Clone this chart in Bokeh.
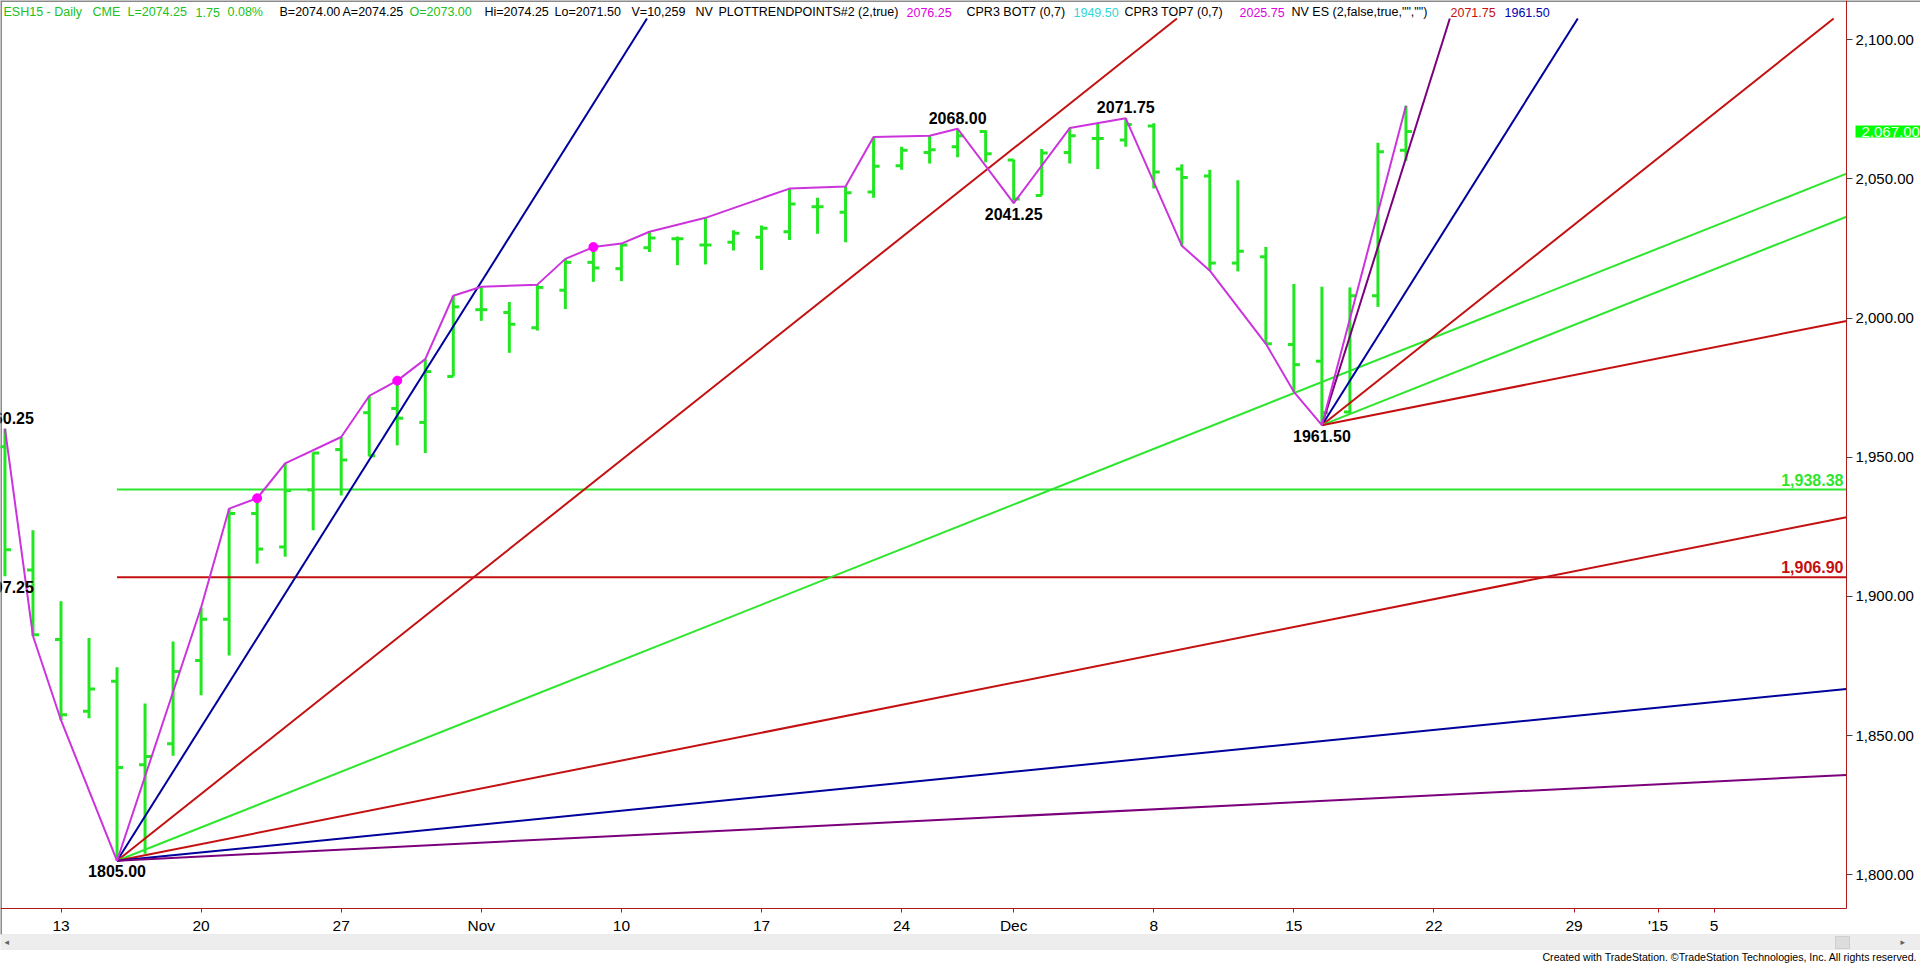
from bokeh.plotting import figure
from bokeh.models import (Range1d, FixedTicker, NumeralTickFormatter, Label, LinearAxis,
                          ColumnDataSource, BoxAnnotation)
from bokeh.core.properties import value
from bokeh.embed import file_html
from bokeh.resources import INLINE

# ------------------------------------------------------------------ data
# trading-day index (0 = Mon Oct 13 2014)
bar_index = list(range(-2, 49))
opens = [1953.75, 1909.50, 1884.50, 1858.75, 1869.50, 1839.50, 1847.00, 1877.00, 1891.75, 1929.75,
         1917.75, 1938.25, 1952.75, 1966.00, 1967.50, 1962.50, 1979.00, 2003.00, 2002.00, 1996.50,
         2010.00, 2020.00, 2017.75, 2025.25, 2028.50, 2026.25, 2027.25, 2029.00, 2031.00, 2040.00,
         2038.00, 2045.25, 2054.75, 2059.50, 2061.50, 2067.00, 2056.75, 2044.00, 2059.50, 2064.50,
         2064.00, 2069.00, 2053.50, 2051.00, 2019.75, 2022.00, 1990.50, 1984.50, 1966.25, 2008.00,
         2060.25]
highs = [1960.25, 1923.75, 1898.25, 1885.00, 1874.50, 1861.50, 1883.75, 1896.00, 1931.50, 1935.25,
         1947.75, 1951.75, 1957.25, 1972.00, 1977.50, 1985.25, 2008.00, 2011.25, 2005.75, 2012.00,
         2021.25, 2025.50, 2026.75, 2031.00, 2029.25, 2036.00, 2031.50, 2033.25, 2046.50, 2043.25,
         2047.25, 2065.00, 2061.50, 2065.50, 2068.00, 2067.50, 2057.00, 2060.75, 2068.25, 2069.75,
         2071.75, 2070.00, 2055.25, 2053.25, 2049.50, 2025.50, 2012.25, 2011.25, 2011.00, 2063.00,
         2076.25]
lows = [1907.25, 1885.75, 1855.50, 1856.25, 1805.00, 1807.50, 1842.75, 1864.50, 1878.75, 1911.75,
        1914.25, 1923.75, 1936.25, 1950.25, 1954.25, 1951.50, 1979.00, 1999.00, 1987.50, 1995.50,
        2003.25, 2013.00, 2013.25, 2023.75, 2019.00, 2019.25, 2024.25, 2017.25, 2028.00, 2030.25,
        2027.25, 2043.25, 2053.25, 2055.50, 2057.75, 2056.00, 2041.25, 2044.00, 2055.50, 2053.50,
        2061.50, 2046.50, 2026.00, 2017.00, 2016.75, 1990.75, 1973.50, 1961.50, 1965.50, 2004.00,
        2056.50]
closes = [1916.75, 1886.25, 1857.50, 1866.75, 1838.50, 1842.50, 1873.00, 1891.75, 1929.75, 1917.00,
          1938.00, 1951.50, 1949.00, 1950.50, 1964.00, 1980.75, 2004.00, 2003.00, 1997.75, 2011.00,
          2020.00, 2018.00, 2026.25, 2028.75, 2028.50, 2026.25, 2030.50, 2032.25, 2041.00, 2040.00,
          2045.00, 2054.50, 2060.25, 2060.50, 2065.50, 2059.00, 2042.75, 2059.25, 2065.50, 2064.50,
          2069.50, 2052.50, 2050.50, 2019.75, 2024.00, 1990.75, 1983.25, 1966.00, 2008.00, 2059.75,
          2067.00]

# swing line (PlotTrendPoints)
zig_index = [-2, -1, 0, 2, 5, 6, 7, 8, 10, 11, 12, 13, 14, 15, 17, 18, 19, 20, 21, 23, 26, 28,
             29, 31, 32, 34, 36, 38, 40, 41, 43, 44, 45, 48]
zig_value = [1960.25, 1885.75, 1855.50, 1805.00, 1896.00, 1931.50, 1935.25, 1947.75, 1957.25,
             1972.00, 1977.50, 1985.25, 2008.00, 2011.25, 2012.00, 2021.25, 2025.50, 2026.75,
             2031.00, 2036.00, 2046.50, 2047.25, 2065.00, 2065.50, 2068.00, 2041.25, 2068.25,
             2071.75, 2026.00, 2017.00, 1990.75, 1973.50, 1961.50, 2076.25]
dot_index = [7, 12, 19]
dot_value = [1935.25, 1977.50, 2025.50]

# swing labels
swing_index = [-2, -2, 2, 32, 34, 38, 45]
swing_value = [1960.25, 1907.25, 1805.00, 2068.00, 2041.25, 2071.75, 1961.50]
swing_text = ["1960.25", "1907.25", "1805.00", "2068.00", "2041.25", "2071.75", "1961.50"]
swing_side = [1, -1, -1, 1, -1, 1, -1]

# Gann fans
fan1_index, fan1_value = 2, 1805.00
fan1_slopes = [16, 8, 4, 2, 1, 0.5]
fan1_kind = ["blue", "red", "green", "red", "blue", "purple"]
fan2_index, fan2_value = 45, 1961.50
fan2_slopes = [32, 16, 8, 4, 2]
fan2_kind = ["purple", "blue", "red", "green", "red"]

# retracement levels
level_values = [1938.38, 1906.90]
level_text = ["1,938.38", "1,906.90"]
level_kind = ["green", "red"]
level_start_index = 2

# axes
xtick_index = [0, 5, 10, 15, 20, 25, 30, 34, 39, 44, 49, 54, 57, 59]
xtick_labels = ["13", "20", "27", "Nov", "10", "17", "24", "Dec", "8", "15", "22", "29", "'15", "5"]
ytick_values = [1800, 1850, 1900, 1950, 2000, 2050, 2100]
last_price = 2067.00

# header line: (left pixel, text, colour)
header = [
    (3, "ESH15 - Daily", "hgreen"), (92, "CME", "hgreen"), (127, "L=2074.25", "hgreen"),
    (195, "1.75", "hgreen"), (227, "0.08%", "hgreen"), (279, "B=2074.00", "black"),
    (342, "A=2074.25", "black"), (409, "O=2073.00", "hgreen"), (484, "Hi=2074.25", "black"),
    (554, "Lo=2071.50", "black"), (631, "V=10,259", "black"), (695, "NV", "black"),
    (718, "PLOTTRENDPOINTS#2 (2,true)", "black"), (906, "2076.25", "magenta"),
    (966, "CPR3 BOT7 (0,7)", "black"), (1073, "1949.50", "cyan"),
    (1124, "CPR3 TOP7 (0,7)", "black"), (1239, "2025.75", "magenta"),
    (1291, 'NV ES (2,false,true,"","")', "black"), (1450, "2071.75", "red"),
    (1504, "1961.50", "navy"),
]
copyright_text = "Created with TradeStation. \u00a9TradeStation Technologies, Inc. All rights reserved."

# ------------------------------------------------------------------ styling / geometry
COL = {"blue": "#00009C", "red": "#C41010", "green": "#2EE62E", "purple": "#7B007B",
       "black": "#000000", "magenta": "#E000E0", "cyan": "#33D6D6", "navy": "#0000B0",
       "hgreen": "#22C022"}
BAR_C = "#22E622"
ZIG_C = "#CC33DD"
AX_C = "#B01818"
FONT = "Liberation Sans"

W, H = 1920, 964
X_I0, PX_BAR = 60.5, 28.02          # pixel geometry of the chart
Y_2100, PX_PT = 39.2, 2.7833
PLOT_R, PLOT_T, PLOT_B = 1846, 18, 908


def ri(X):
    return (X - X_I0) / PX_BAR


def rv(Y):
    return 2100 - (Y - Y_2100) / PX_PT


p = figure(width=W, height=H,
           x_range=Range1d(ri(0), ri(W)), y_range=Range1d(rv(H), rv(0)),
           x_axis_location=None, y_axis_location=None,
           output_backend="svg", toolbar_location=None,
           min_border_left=0, min_border_right=0, min_border_top=0, min_border_bottom=0)
p.xgrid.visible = False
p.ygrid.visible = False
p.outline_line_color = None
p.background_fill_color = "white"
p.border_fill_color = "white"

x_right = ri(PLOT_R)
v_top = rv(PLOT_T)
v_bottom = rv(PLOT_B)

# axes (fixed at the edges of the price area)
xa = LinearAxis(fixed_location=v_bottom, bounds=(ri(0), x_right))
xa.ticker = FixedTicker(ticks=xtick_index)
xa.major_label_overrides = {k: v for k, v in zip(xtick_index, xtick_labels)}
xa.axis_line_color = AX_C
xa.major_tick_line_color = AX_C
xa.major_tick_out = 4
xa.major_tick_in = 0
xa.minor_tick_line_color = None
xa.major_label_text_font = FONT
xa.major_label_text_font_size = "15.5px"
xa.major_label_text_color = "black"
xa.major_label_standoff = 4
p.add_layout(xa, "below")

ya = LinearAxis(fixed_location=x_right, bounds=(v_bottom, rv(0)))
ya.ticker = FixedTicker(ticks=ytick_values)
ya.formatter = NumeralTickFormatter(format="0,0.00")
ya.axis_line_color = AX_C
ya.major_tick_line_color = "#444444"
ya.major_tick_out = 6
ya.major_tick_in = 0
ya.minor_tick_line_color = None
ya.major_label_text_font = FONT
ya.major_label_text_font_size = "15px"
ya.major_label_text_color = "black"
ya.major_label_standoff = 3
p.add_layout(ya, "right")

# chart borders
p.segment(x0=[ri(0.5), ri(0)], y0=[rv(0), rv(0.5)], x1=[ri(0.5), ri(W)], y1=[rv(934), rv(0.5)],
          line_color="#8A8A8A", line_width=2)

# OHLC bars
TICK = 6 / PX_BAR
src = ColumnDataSource(dict(i=bar_index, o=opens, h=highs, l=lows, c=closes,
                            il=[i - TICK for i in bar_index], ir=[i + TICK for i in bar_index]))
p.segment(x0="i", y0="l", x1="i", y1="h", source=src, line_color=BAR_C, line_width=3)
p.segment(x0="il", y0="o", x1="i", y1="o", source=src, line_color=BAR_C, line_width=3)
p.segment(x0="i", y0="c", x1="ir", y1="c", source=src, line_color=BAR_C, line_width=3)

# levels
for lv, kind in zip(level_values, level_kind):
    p.segment(x0=[level_start_index], y0=[lv], x1=[x_right], y1=[lv], line_color=COL[kind], line_width=2)

# fans, cut at the edges of the price area
for (pi, pv, slopes, kinds) in [(fan1_index, fan1_value, fan1_slopes, fan1_kind),
                                (fan2_index, fan2_value, fan2_slopes, fan2_kind)]:
    for s, k in zip(slopes, kinds):
        xe = min(x_right, pi + (v_top - pv) / s)
        p.line([pi, xe], [pv, pv + s * (xe - pi)], line_color=COL[k], line_width=2)

# swing line + dots
p.line(zig_index, zig_value, line_color=ZIG_C, line_width=2)
p.scatter(dot_index, dot_value, size=9, fill_color="#FF00FF", line_color="#FF00FF")

# swing labels
lab_y = [v + (11 / PX_PT if s > 0 else -10.5 / PX_PT) for v, s in zip(swing_value, swing_side)]
p.text(x=swing_index, y=lab_y, text=swing_text, text_font=value(FONT),
       text_font_style="bold", text_font_size="16px", text_align="center",
       text_baseline="middle", text_color="black")

# level labels
p.text(x=[ri(1843)] * len(level_values), y=[lv + 9.8 / PX_PT for lv in level_values],
       text=level_text, text_font=value(FONT), text_font_style="bold",
       text_font_size="16px", text_align="right", text_baseline="middle",
       text_color=[COL[k] for k in level_kind])

# last price marker on the price axis
p.add_layout(Label(x=ri(1855), y=last_price, text="{:,.2f}".format(last_price),
                   text_font=FONT, text_font_size="15px", text_color="#F0FFF0",
                   text_baseline="middle", text_align="left",
                   background_fill_color="#00FF00", padding=(6, 1)))

# header line
for X, t, c in header:
    p.add_layout(Label(x=ri(X), y=rv(11.5), text=t, text_font=FONT,
                       text_font_size="12.5px", text_baseline="middle", text_align="left",
                       text_color=COL[c]))

# scroll bar + copyright
p.add_layout(BoxAnnotation(left=ri(0), right=ri(W), top=rv(934), bottom=rv(949),
                           fill_color="#EDEDED", fill_alpha=1, line_color="#D0D0D0"))
p.add_layout(BoxAnnotation(left=ri(1835), right=ri(1849), top=rv(936), bottom=rv(948),
                           fill_color="#DDDDDD", fill_alpha=1, line_color="#9A9A9A"))
p.add_layout(Label(x=ri(4), y=rv(941.5), text="\u25c2", text_font="DejaVu Sans",
                   text_font_size="9px", text_color="#606060", text_baseline="middle"))
p.add_layout(Label(x=ri(1900), y=rv(941.5), text="\u25b8", text_font="DejaVu Sans",
                   text_font_size="9px", text_color="#606060", text_baseline="middle"))
p.add_layout(Label(x=ri(1917), y=rv(956.5), text=copyright_text,
                   text_font=FONT, text_font_size="10.6px", text_color="black",
                   text_baseline="middle", text_align="right"))

open("out.html", "w").write(file_html(p, INLINE))
